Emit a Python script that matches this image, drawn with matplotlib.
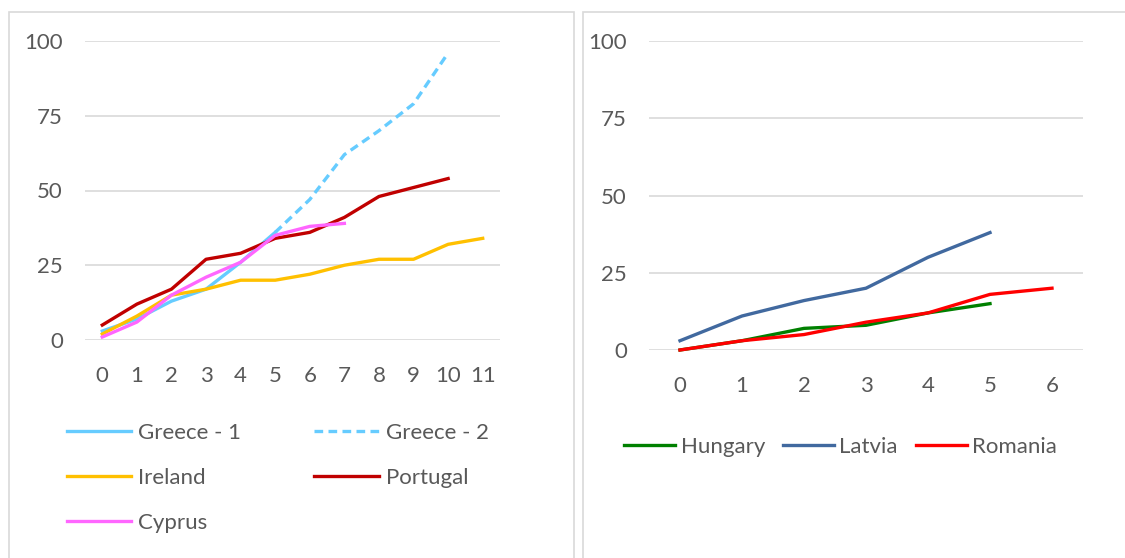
import numpy as np
import matplotlib
matplotlib.use("Agg")
import matplotlib.pyplot as plt
from matplotlib.patches import Rectangle

plt.rcParams['font.family'] = ['Lato', 'DejaVu Sans']

# Левая панель: значения по периодам (nan = нет данных)
x_left = list(range(12))
greece_1 = [3, 7, 13, 17, 26, 36, np.nan, np.nan, np.nan, np.nan, np.nan, np.nan]
greece_2 = [np.nan, np.nan, np.nan, np.nan, np.nan, 36, 47, 62, 70, 79, 96, np.nan]
ireland = [2, 8, 15, 17, 20, 20, 22, 25, 27, 27, 32, 34]
portugal = [5, 12, 17, 27, 29, 34, 36, 41, 48, 51, 54, np.nan]
cyprus = [1, 6, 15, 21, 26, 35, 38, 39, np.nan, np.nan, np.nan, np.nan]

# Правая панель
x_right = list(range(7))
hungary = [0, 3, 7, 8, 12, 15, np.nan]
latvia = [3, 11, 16, 20, 30, 38, np.nan]
romania = [0, 3, 5, 9, 12, 18, 20]

y_ticks = [0, 25, 50, 75, 100]

text_col = '#595959'
grid_col = '#D9D9D9'
fs = 16
lw = 2.4

fig = plt.figure(figsize=(11.25, 5.58), dpi=100)

# рамки двух диаграмм
W, H = 1125, 558
fig.patches.append(Rectangle((9 / W, -0.1), (574 - 9) / W, 1.1 - 12 / H,
                             transform=fig.transFigure, fill=False,
                             edgecolor=grid_col, lw=1.2))
fig.patches.append(Rectangle((583 / W, -0.1), 0.6, 1.1 - 12 / H,
                             transform=fig.transFigure, fill=False,
                             edgecolor=grid_col, lw=1.2))

ax1 = fig.add_axes([85 / W, 1 - 340 / H, 415 / W, 299 / H])
ax2 = fig.add_axes([649 / W, 1 - 350 / H, 434 / W, 309 / H])


def style(ax, n):
    ax.set_xlim(-0.5, n - 0.5)
    ax.set_ylim(0, 100)
    ax.set_xticks(range(n))
    ax.set_yticks(y_ticks)
    ax.grid(axis='y', color=grid_col, lw=1.2)
    ax.set_axisbelow(True)
    for s in ax.spines.values():
        s.set_visible(False)
    ax.tick_params(axis='both', length=0, labelsize=fs, colors=text_col)
    ax.tick_params(axis='x', pad=18.5)
    ax.tick_params(axis='y', pad=16)
    ax.patch.set_alpha(0)


l_g1, = ax1.plot(x_left, greece_1, color='#66CCFF', lw=lw, label='Greece - 1', clip_on=False)
l_g2, = ax1.plot(x_left, greece_2, color='#66CCFF', lw=lw, ls=(0, (2.6, 1.6)),
                 label='Greece - 2', clip_on=False)
l_ie, = ax1.plot(x_left, ireland, color='#FFC000', lw=lw, label='Ireland', clip_on=False)
l_pt, = ax1.plot(x_left, portugal, color='#C00000', lw=lw, label='Portugal', clip_on=False)
l_cy, = ax1.plot(x_left, cyprus, color='#FF66FF', lw=lw, label='Cyprus', clip_on=False)
style(ax1, len(x_left))

ax2.plot(x_right, hungary, color='#008000', lw=lw, label='Hungary', clip_on=False)
ax2.plot(x_right, latvia, color='#41699F', lw=lw, label='Latvia', clip_on=False)
ax2.plot(x_right, romania, color='#FF0000', lw=lw, label='Romania', clip_on=False)
style(ax2, len(x_right))

# порядок как в Excel: по строкам
order = [l_g1, l_ie, l_cy, l_g2, l_pt]
ax1.legend(handles=order, ncol=2, loc='upper left',
           bbox_to_anchor=(47 / W, 1 - 403 / H),
           bbox_transform=fig.transFigure, frameon=False, fontsize=fs,
           handlelength=2.9, handletextpad=0.3, columnspacing=3.3,
           labelspacing=1.12, labelcolor=text_col)
ax2.legend(ncol=3, loc='upper left', bbox_to_anchor=(604 / W, 1 - 417 / H),
           bbox_transform=fig.transFigure, frameon=False, fontsize=fs,
           handlelength=2.3, handletextpad=0.25, columnspacing=0.8,
           labelcolor=text_col)

fig.savefig('out.png', dpi=100)
